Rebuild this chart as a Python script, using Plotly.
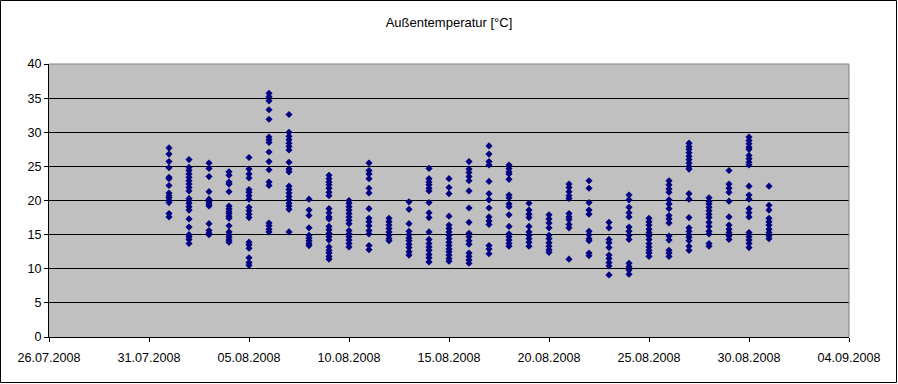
import plotly.graph_objects as go

# Daily measurement columns (date -> list of temperatures in °C)
d01 = [27.7, 26.8, 25.7, 24.8, 23.4, 23.2, 22.2, 21.1, 20.7, 20.4, 20.0, 19.7, 18.1, 17.6]
d02 = [26.0, 24.85, 24.4, 23.9, 23.4, 22.9, 22.4, 21.9, 21.4, 20.3, 20.0, 19.6, 19.1, 18.6, 17.3, 16.1, 15.0, 14.7, 14.3, 13.7]
d03 = [25.5, 24.7, 23.5, 21.3, 20.2, 19.8, 19.5, 19.2, 16.6, 15.6, 15.2, 15.0]
d04 = [24.2, 23.7, 22.7, 22.4, 21.3, 19.2, 18.8, 18.4, 18.1, 17.7, 17.4, 16.3, 15.4, 15.0, 14.6, 14.2, 13.9]
d05 = [26.3, 24.6, 23.9, 23.3, 21.6, 21.2, 20.7, 20.2, 19.0, 18.5, 18.0, 17.5, 13.9, 13.5, 13.0, 11.6, 10.9, 10.5]
d06 = [35.7, 35.2, 34.6, 33.3, 31.9, 29.3, 28.9, 28.5, 27.1, 25.7, 24.5, 22.7, 22.2, 16.7, 16.3, 15.8, 15.4]
d07 = [32.6, 30.0, 29.4, 28.9, 28.4, 27.9, 27.4, 25.6, 24.6, 24.2, 22.1, 21.6, 21.1, 20.6, 20.1, 19.6, 19.2, 18.7, 15.4]
d08 = [20.2, 18.6, 17.8, 16.0, 14.9, 14.5, 14.1, 13.7, 13.4]
d09 = [23.7, 23.2, 22.7, 22.3, 21.8, 21.2, 20.7, 18.8, 18.2, 17.6, 17.3, 16.2, 15.7, 15.2, 14.7, 14.2, 13.2, 12.7, 12.3, 11.8, 11.4]
d10 = [20.0, 19.6, 19.1, 18.6, 18.1, 17.6, 17.1, 16.6, 15.6, 15.1, 14.7, 14.2, 13.7, 13.2]
d11 = [25.5, 24.4, 23.9, 23.2, 21.8, 21.1, 18.8, 17.4, 16.9, 16.3, 15.6, 15.1, 13.4, 12.8]
d12 = [17.4, 16.9, 16.4, 15.9, 15.4, 14.9, 14.4, 14.1]
d13 = [19.8, 18.7, 16.6, 15.5, 15.0, 14.5, 14.1, 13.6, 13.1, 12.5, 12.0]
d14 = [24.7, 23.2, 22.7, 22.3, 21.8, 21.4, 19.7, 18.2, 17.5, 15.4, 14.3, 13.7, 13.2, 12.7, 12.1, 11.6, 11.0]
d15 = [23.2, 21.9, 21.0, 17.7, 16.4, 15.9, 15.4, 14.9, 14.4, 13.9, 13.4, 12.9, 12.5, 12.0, 11.5, 11.1]
d16 = [25.7, 24.6, 24.1, 23.5, 22.9, 21.4, 18.9, 16.8, 15.2, 14.7, 14.1, 13.6, 12.3, 11.8, 11.3, 10.8]
d17 = [28.0, 26.8, 25.7, 25.2, 22.8, 21.0, 20.1, 18.9, 17.6, 17.0, 16.5, 13.4, 12.9, 12.2]
d18 = [25.2, 24.7, 24.2, 23.9, 23.1, 20.8, 20.4, 19.5, 19.1, 17.9, 16.2, 15.1, 14.7, 14.2, 13.7, 13.3]
d19 = [19.6, 18.6, 18.0, 17.5, 16.2, 15.4, 14.9, 14.4, 13.9, 13.3]
d20 = [17.9, 17.3, 16.7, 16.0, 14.9, 14.4, 13.8, 13.3, 12.8, 12.4]
d21 = [22.4, 21.9, 21.3, 20.7, 20.3, 18.1, 17.6, 17.2, 16.5, 16.0, 11.4]
d22 = [22.9, 21.8, 19.7, 18.6, 18.0, 15.5, 15.0, 14.4, 14.1, 12.3, 11.9]
d23 = [16.8, 16.0, 14.3, 13.8, 13.1, 12.0, 11.5, 10.9, 10.4, 9.1]
d24 = [20.8, 20.1, 19.0, 18.2, 17.6, 16.1, 15.5, 14.9, 14.3, 10.8, 10.3, 9.8, 9.2]
d25 = [17.4, 16.9, 16.4, 15.8, 15.3, 14.8, 14.3, 13.7, 13.2, 12.7, 12.3, 11.8]
d26 = [22.9, 22.3, 21.7, 21.2, 20.1, 19.5, 18.8, 17.8, 17.3, 16.7, 14.8, 14.2, 12.7, 12.3, 11.8]
d27 = [28.4, 27.9, 27.5, 27.0, 26.5, 26.0, 25.5, 25.0, 24.6, 21.0, 20.2, 17.5, 16.0, 15.5, 15.0, 14.6, 14.1, 13.3, 12.7]
d28 = [20.4, 19.9, 19.5, 19.0, 18.5, 18.0, 17.5, 16.8, 16.2, 15.5, 15.1, 13.7, 13.3]
d29 = [24.4, 22.4, 21.8, 21.2, 19.9, 17.6, 16.4, 15.8, 15.3, 14.8, 14.3]
d30 = [29.3, 28.8, 28.3, 27.8, 27.5, 26.6, 26.1, 25.6, 25.2, 22.1, 20.8, 20.2, 18.8, 18.2, 17.6, 15.3, 14.7, 14.2, 13.7, 13.1]
d31 = [22.1, 19.3, 18.6, 17.4, 16.9, 16.4, 15.8, 15.3, 14.8, 14.4]

day_values = [d01, d02, d03, d04, d05, d06, d07, d08, d09, d10, d11, d12, d13, d14, d15, d16,
              d17, d18, d19, d20, d21, d22, d23, d24, d25, d26, d27, d28, d29, d30, d31]
dates = ["2008-08-%02d" % (i + 1) for i in range(len(day_values))]

x_vals, y_vals = [], []
for dt, vals in zip(dates, day_values):
    for v in vals:
        x_vals.append(dt)
        y_vals.append(v)

title_text = "Außentemperatur [°C]"

fig = go.Figure()
fig.add_trace(go.Scatter(
    x=x_vals, y=y_vals, mode="markers",
    marker=dict(symbol="diamond", size=5.5, color="#000080", line=dict(width=0)),
    hoverinfo="x+y", showlegend=False,
))

W, H = 898, 384
L, R, T, B = 49, 49, 64, 47
pw = W - L - R
ph = H - T - B

fig.update_layout(
    width=W, height=H,
    margin=dict(l=L, r=R, t=T, b=B, pad=0),
    paper_bgcolor="white",
    plot_bgcolor="#C0C0C0",
    font=dict(family="Liberation Sans, Arial, sans-serif", size=12.6, color="black"),
    title=dict(text=title_text, x=0.5, xanchor="center", xref="container",
               y=1 - 22 / H, yanchor="middle", yref="container",
               font=dict(size=13, color="black")),
    xaxis=dict(
        type="date",
        range=["2008-07-26", "2008-09-04"],
        tick0="2008-07-26", dtick=5 * 86400000,
        tickformat="%d.%m.%Y",
        showgrid=False, zeroline=False,
        showline=True, linecolor="black", linewidth=1,
        ticks="outside", ticklen=4, tickcolor="black", tickwidth=1,
        ticklabelstandoff=5,
        tickfont=dict(size=12.6, color="black"),
        fixedrange=True,
    ),
    yaxis=dict(
        range=[0, 40], dtick=5, tick0=0,
        showgrid=True, gridcolor="black", gridwidth=1,
        zeroline=False,
        showline=True, linecolor="black", linewidth=1,
        ticks="outside", ticklen=4, tickcolor="black", tickwidth=1,
        tickfont=dict(size=12.6, color="black"),
        fixedrange=True,
    ),
    shapes=[
        # gray top and right border of plot area
        dict(type="line", xref="paper", yref="paper", x0=0, x1=1, y0=1, y1=1,
             line=dict(color="#808080", width=1), layer="above"),
        dict(type="line", xref="paper", yref="paper", x0=1, x1=1, y0=0, y1=1,
             line=dict(color="#808080", width=1), layer="above"),
        # black frame around the whole chart
        dict(type="rect", xref="paper", yref="paper",
             x0=(0.5 - L) / pw, x1=(W - 1.5 - L) / pw,
             y0=-(B - 1.5) / ph, y1=1 + (T - 0.5) / ph,
             line=dict(color="black", width=1), fillcolor="rgba(0,0,0,0)", layer="above"),
    ],
)

fig.write_html("out.html", config={"displayModeBar": False},
               post_script="document.body.style.margin='0';document.body.style.overflow='hidden';")
